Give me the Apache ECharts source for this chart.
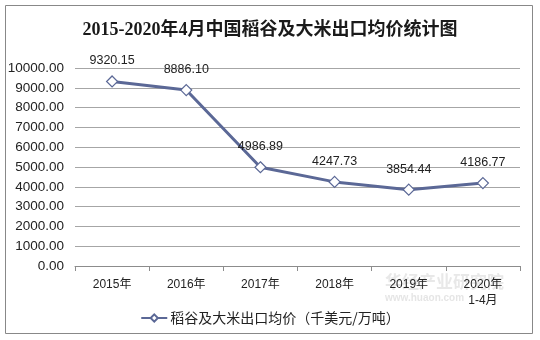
<!DOCTYPE html>
<html>
<head>
<meta charset="utf-8">
<script src="https://cdn.jsdelivr.net/npm/echarts@6/dist/echarts.min.js"></script>
<style>
  html, body { margin: 0; padding: 0; background: #fff; }
  #chart { width: 540px; height: 340px; }
</style>
</head>
<body>
<div id="chart"></div>
<script>
// Categories and average export price of rice (thousand USD per 10k tonnes)
var years = ['2015年', '2016年', '2017年', '2018年', '2019年', '2020年\n1-4月'];
var prices = [9320.15, 8886.10, 4986.89, 4247.73, 3854.44, 4186.77];
var seriesName = '稻谷及大米出口均价（千美元/万吨）';
var titleText = '2015-2020年4月中国稻谷及大米出口均价统计图';

var chart = echarts.init(document.getElementById('chart'), null, { renderer: 'canvas' });
var lineColor = '#5b6896';

chart.setOption({
  animation: false,
  backgroundColor: '#fff',
  title: {
    text: titleText,
    left: 'center',
    top: 16,
    textStyle: {
      fontFamily: '"Liberation Serif", "Noto Sans CJK SC", serif',
      fontSize: 18,
      fontWeight: 'bold',
      color: '#1a1a1a'
    }
  },
  graphic: [
    {
      type: 'rect',
      shape: { x: 5.5, y: 5.5, width: 527, height: 328 },
      style: { fill: 'none', stroke: '#888', lineWidth: 1 },
      silent: true
    },
    {
      type: 'text',
      left: 385,
      top: 273,
      style: {
        text: '华经产业研究院',
        fontFamily: '"Noto Sans CJK SC", sans-serif',
        fontSize: 17,
        fontWeight: 'bold',
        fill: 'rgba(150,150,150,0.22)'
      },
      silent: true
    },
    {
      type: 'text',
      left: 385,
      top: 293,
      style: {
        text: 'www.huaon.com',
        fontFamily: 'Arial, "Liberation Sans", sans-serif',
        fontSize: 10,
        fontWeight: 'bold',
        fill: 'rgba(150,150,150,0.25)'
      },
      silent: true
    }
  ],
  legend: {
    top: 306,
    left: 'center',
    itemWidth: 26,
    itemHeight: 9,
    itemGap: 10,
    textStyle: {
      fontFamily: '"Noto Sans CJK SC", sans-serif',
      fontSize: 14,
      color: '#222',
      padding: [0, 0, 0, -2]
    },
    data: [seriesName]
  },
  grid: {
    left: 75,
    right: 20,
    top: 68,
    bottom: 74
  },
  xAxis: {
    type: 'category',
    data: years,
    boundaryGap: true,
    axisLine: { show: true, lineStyle: { color: '#8c8c8c', width: 1 } },
    axisTick: { show: true, alignWithLabel: false, length: 5, lineStyle: { color: '#8c8c8c' } },
    axisLabel: {
      color: '#222',
      fontFamily: 'Arial, "Liberation Sans", "Noto Sans CJK SC", sans-serif',
      fontSize: 12,
      margin: 11,
      lineHeight: 16
    }
  },
  yAxis: {
    type: 'value',
    min: 0,
    max: 10000,
    interval: 1000,
    axisLine: { show: false },
    axisTick: { show: false },
    splitLine: { lineStyle: { color: '#a6a6a6', width: 1 } },
    axisLabel: {
      formatter: function (v) { return v.toFixed(2); },
      color: '#222',
      fontFamily: 'Arial, "Liberation Sans", sans-serif',
      fontSize: 13.5,
      margin: 11
    }
  },
  series: [{
    name: seriesName,
    type: 'line',
    data: prices,
    symbol: 'diamond',
    symbolSize: 11,
    lineStyle: { color: lineColor, width: 3 },
    itemStyle: { color: '#fff', borderColor: lineColor, borderWidth: 1.2 },
    label: {
      show: true,
      position: 'top',
      distance: 8,
      formatter: function (p) { return p.value.toFixed(2); },
      color: '#222',
      fontFamily: 'Arial, "Liberation Sans", sans-serif',
      fontSize: 12.5
    }
  }]
});
</script>
</body>
</html>
